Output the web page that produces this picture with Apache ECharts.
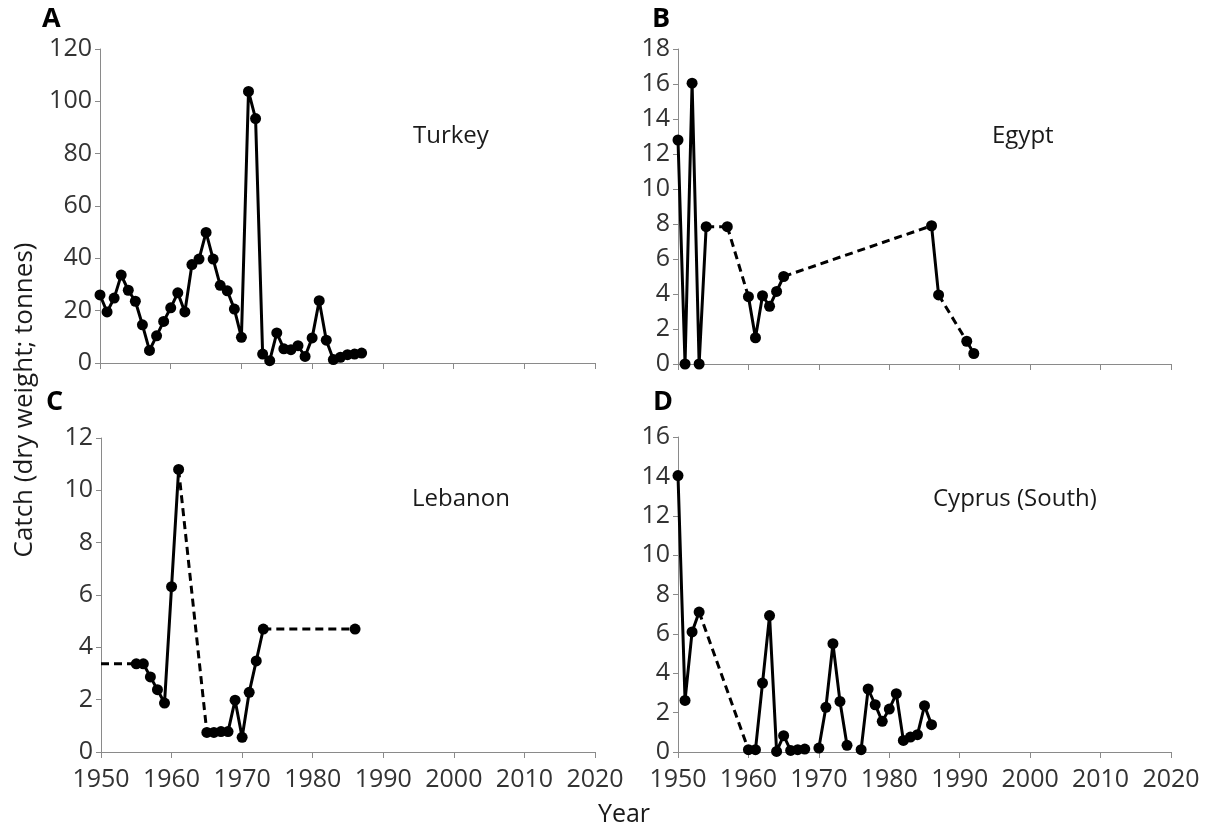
<!DOCTYPE html>
<html>
<head>
<meta charset="utf-8">
<script src="https://cdn.jsdelivr.net/npm/echarts@6/dist/echarts.min.js"></script>
<style>
html,body{margin:0;padding:0;background:#fff;}
#chart{width:1207px;height:828px;}
</style>
</head>
<body>
<div id="chart"></div>
<script>
// ---- Data ----
const xTicks = [1950, 1960, 1970, 1980, 1990, 2000, 2010, 2020];

const turkeyYears = [1950,1951,1952,1953,1954,1955,1956,1957,1958,1959,1960,1961,1962,1963,1964,1965,1966,1967,1968,1969,1970,1971,1972,1973,1974,1975,1976,1977,1978,1979,1980,1981,1982,1983,1984,1985,1986,1987];
const turkeyValues = [26,19.5,24.8,33.6,27.8,23.6,14.6,4.8,10.4,15.9,21.1,26.8,19.5,37.6,39.7,49.9,39.7,29.7,27.6,20.6,9.8,103.8,93.4,3.4,0.9,11.5,5.4,5.1,6.6,2.5,9.6,23.8,8.7,1.3,2.2,3.2,3.4,3.8];
const turkeyDashedFrom = [];
const turkeyGapFrom = [];
const turkeyNoMarker = [];

const egyptYears = [1950,1951,1952,1953,1954,1957,1960,1961,1962,1963,1964,1965,1986,1987,1991,1992];
const egyptValues = [12.8,0,16.05,0,7.85,7.85,3.85,1.5,3.9,3.3,4.15,5.0,7.9,3.95,1.3,0.6];
const egyptDashedFrom = [1954,1957,1965,1987];
const egyptGapFrom = [];
const egyptNoMarker = [];

const lebanonYears = [1950,1955,1956,1957,1958,1959,1960,1961,1965,1966,1967,1968,1969,1970,1971,1972,1973,1986];
const lebanonValues = [3.37,3.37,3.37,2.87,2.38,1.87,6.32,10.8,0.75,0.75,0.78,0.78,1.98,0.56,2.28,3.48,4.7,4.7];
const lebanonDashedFrom = [1950,1961,1973];
const lebanonGapFrom = [];
const lebanonNoMarker = [1950];

const cyprusYears = [1950,1951,1952,1953,1960,1961,1962,1963,1964,1965,1966,1967,1968,1970,1971,1972,1973,1974,1976,1977,1978,1979,1980,1981,1982,1983,1984,1985,1986];
const cyprusValues = [14.04,2.62,6.1,7.11,0.12,0.12,3.5,6.93,0.03,0.83,0.08,0.12,0.15,0.2,2.27,5.5,2.57,0.34,0.12,3.2,2.4,1.56,2.18,2.96,0.59,0.76,0.88,2.35,1.39];
const cyprusDashedFrom = [1953];
const cyprusGapFrom = [1968,1974];
const cyprusNoMarker = [];

const panelLetters = ['A','B','C','D'];
const countryNames = ['Turkey','Egypt','Lebanon','Cyprus (South)'];
const yMaxes = [120, 18, 12, 16];
const yIntervals = [20, 2, 2, 2];

// ---- Build ----
const panels = [
  {years: turkeyYears, values: turkeyValues, dashed: turkeyDashedFrom, gaps: turkeyGapFrom, noMarker: turkeyNoMarker},
  {years: egyptYears, values: egyptValues, dashed: egyptDashedFrom, gaps: egyptGapFrom, noMarker: egyptNoMarker},
  {years: lebanonYears, values: lebanonValues, dashed: lebanonDashedFrom, gaps: lebanonGapFrom, noMarker: lebanonNoMarker},
  {years: cyprusYears, values: cyprusValues, dashed: cyprusDashedFrom, gaps: cyprusGapFrom, noMarker: cyprusNoMarker}
];

const grids = [
  {left: 100, top: 49, width: 495, height: 314},
  {left: 678, top: 49, width: 493, height: 315},
  {left: 101, top: 438, width: 494, height: 314},
  {left: 678, top: 437, width: 493, height: 315}
];

const FONT = 'Open Sans';
const axisColor = '#8a8a8a';
const labelColor = '#333333';

const xAxes = [], yAxes = [], series = [];
panels.forEach((p, k) => {
  xAxes.push({
    type: 'value', gridIndex: k, min: xTicks[0], max: xTicks[xTicks.length-1], interval: 10,
    axisLine: {show: true, lineStyle: {color: axisColor, width: 1}},
    axisTick: {show: true, length: 6, lineStyle: {color: axisColor}},
    axisLabel: {show: k >= 2, color: labelColor, fontFamily: FONT, fontSize: 25, margin: 15,
      formatter: v => String(v)},
    splitLine: {show: false}
  });
  yAxes.push({
    type: 'value', gridIndex: k, min: 0, max: yMaxes[k], interval: yIntervals[k],
    axisLine: {show: true, lineStyle: {color: axisColor, width: 1}},
    axisTick: {show: true, length: 5, lineStyle: {color: axisColor}},
    axisLabel: {color: labelColor, fontFamily: FONT, fontSize: 25, margin: 8,
      formatter: v => String(v)},
    splitLine: {show: false}
  });
  const solid = [], dashed = [];
  for (let i = 0; i < p.years.length; i++) {
    const y = p.years[i];
    const item = {value: [y, p.values[i]]};
    if (p.noMarker.includes(y)) item.symbol = 'none';
    solid.push(item);
    if (i < p.years.length - 1) {
      if (p.dashed.includes(y)) {
        solid.push({value: [y, '-']});
        dashed.push([y, p.values[i]], [p.years[i+1], p.values[i+1]], [p.years[i+1], '-']);
      } else if (p.gaps.includes(y)) {
        solid.push({value: [y, '-']});
      }
    }
  }
  series.push({
    type: 'line', xAxisIndex: k, yAxisIndex: k, data: dashed, showSymbol: false,
    lineStyle: {color: '#000', width: 3, type: [8, 5]}, connectNulls: false, z: 2,
    animation: false, silent: true
  });
  series.push({
    type: 'line', xAxisIndex: k, yAxisIndex: k, data: solid, showSymbol: true,
    symbol: 'circle', symbolSize: 11, itemStyle: {color: '#000'},
    lineStyle: {color: '#000', width: 3}, connectNulls: false, z: 3,
    animation: false, silent: true
  });
});

const letterPos = [[42, 19], [652, 19], [46, 402], [653, 402]];
const namePos = [[413, 136], [992, 136], [412, 499], [933, 499]];
const graphics = [];
panelLetters.forEach((t, k) => {
  graphics.push({type: 'text', x: letterPos[k][0], y: letterPos[k][1],
    style: {text: t, font: 'bold 27px "Open Sans"', fill: '#000', textVerticalAlign: 'middle'}});
});
countryNames.forEach((t, k) => {
  graphics.push({type: 'text', x: namePos[k][0], y: namePos[k][1],
    style: {text: t, font: '24px "Open Sans"', fill: '#1a1a1a', textVerticalAlign: 'middle'}});
});
graphics.push({type: 'text', x: 25, y: 400, rotation: Math.PI/2,
  style: {text: 'Catch (dry weight; tonnes)', font: '26px "Open Sans"', fill: '#1a1a1a', textAlign: 'center', textVerticalAlign: 'middle'}});
graphics.push({type: 'text', x: 624, y: 815,
  style: {text: 'Year', font: '25px "Open Sans"', fill: '#1a1a1a', textAlign: 'center', textVerticalAlign: 'middle'}});

const chart = echarts.init(document.getElementById('chart'), null, {renderer: 'canvas'});
chart.setOption({
  animation: false,
  backgroundColor: '#fff',
  grid: grids,
  xAxis: xAxes,
  yAxis: yAxes,
  series: series,
  graphic: graphics
});
</script>
</body>
</html>
